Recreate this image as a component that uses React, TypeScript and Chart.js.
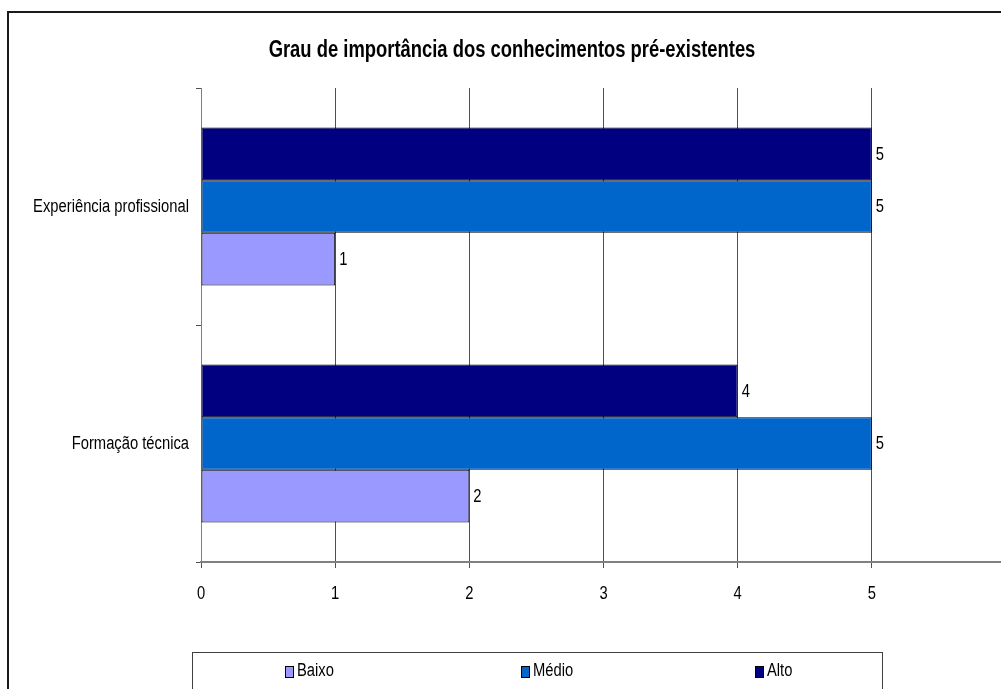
import React, { useEffect, useRef } from "react";
import { Chart, registerables } from "chart.js";

Chart.register(...registerables);

const TITLE = "Grau de importância dos conhecimentos pré-existentes";
const categories = ["Experiência profissional", "Formação técnica"];
const seriesNames = ["Baixo", "Médio", "Alto"];
const baixo = [1, 2];
const medio = [5, 5];
const alto = [5, 4];
const xTicks = [0, 1, 2, 3, 4, 5, 6];
const colors = { Baixo: "#9999FF", "Médio": "#0066CC", Alto: "#000080" };

// Arial Narrow is Arial condensed to ~82%; Liberation Sans is metric-compatible with Arial.
const FONT = "'Liberation Sans', Arial, sans-serif";
const NARROW = 0.82;

const W = 1030;
const H = 720;

function narrowText(
  ctx: CanvasRenderingContext2D,
  text: string,
  x: number,
  y: number,
  align: CanvasTextAlign,
  font: string,
  squeeze: number = NARROW
) {
  ctx.save();
  ctx.font = font;
  ctx.fillStyle = "#000";
  ctx.textAlign = align;
  ctx.textBaseline = "middle";
  ctx.translate(x, y);
  ctx.scale(squeeze, 1);
  ctx.fillText(text, 0, 0);
  ctx.restore();
}

export default function App() {
  const ref = useRef<HTMLCanvasElement | null>(null);

  useEffect(() => {
    const canvas = ref.current;
    if (!canvas) return;

    const valuesByName: Record<string, number[]> = { Baixo: baixo, "Médio": medio, Alto: alto };
    // draw order top to bottom inside each category: Alto, Médio, Baixo
    const drawOrder = [...seriesNames].reverse();

    const framePlugin = {
      id: "frame",
      beforeDraw(chart: any) {
        const ctx = chart.ctx;
        ctx.save();
        ctx.fillStyle = "#ffffff";
        ctx.fillRect(0, 0, chart.width, chart.height);
        ctx.strokeStyle = "#1a1a1a";
        ctx.lineWidth = 2;
        ctx.strokeRect(8, 12, chart.width, chart.height);
        ctx.restore();
      },
    };

    const textPlugin = {
      id: "texts",
      afterDraw(chart: any) {
        const ctx = chart.ctx;
        // title
        narrowText(ctx, TITLE, 512, 51, "center", `bold 23px ${FONT}`, 0.8);
        // y category labels
        const ys = chart.scales.y;
        chart.data.labels.forEach((lab: string, i: number) => {
          narrowText(ctx, lab, ys.right - 12, ys.getPixelForValue(i) + 1, "right", `18px ${FONT}`);
        });
        // x tick labels
        const xs = chart.scales.x;
        xs.ticks.forEach((t: any) => {
          narrowText(ctx, String(t.value), xs.getPixelForValue(t.value), 594, "center", `18px ${FONT}`);
        });
      },
    };

    const valueLabels = {
      id: "valueLabels",
      afterDatasetsDraw(chart: any) {
        const ctx = chart.ctx;
        chart.data.datasets.forEach((ds: any, i: number) => {
          const meta = chart.getDatasetMeta(i);
          meta.data.forEach((el: any, j: number) => {
            narrowText(ctx, String(ds.data[j]), el.x + 4, el.y + 1, "left", `18px ${FONT}`);
          });
        });
      },
    };

    const boxLegend = {
      id: "boxLegend",
      afterDraw(chart: any) {
        const ctx = chart.ctx;
        ctx.save();
        ctx.strokeStyle = "#404040";
        ctx.lineWidth = 1;
        ctx.strokeRect(192.5, 652.5, 690, 80);
        ctx.restore();
        const itemX = [285, 521, 755];
        seriesNames.forEach((name, k) => {
          const ds = chart.data.datasets.find((d: any) => d.label === name);
          const x = itemX[k];
          ctx.save();
          ctx.fillStyle = ds.backgroundColor;
          ctx.fillRect(x, 666, 8, 11);
          ctx.strokeStyle = "#000";
          ctx.lineWidth = 1;
          ctx.strokeRect(x + 0.5, 666.5, 8, 11);
          ctx.restore();
          narrowText(ctx, name, x + 12, 671, "left", `18px ${FONT}`);
        });
      },
    };

    const chart = new Chart(canvas, {
      type: "bar",
      data: {
        labels: categories,
        datasets: drawOrder.map((name) => ({
          label: name,
          data: valuesByName[name],
          backgroundColor: (colors as any)[name],
          borderColor: "#000000",
          borderWidth: 1,
          borderSkipped: false,
          categoryPercentage: 0.667,
          barPercentage: 1.0,
        })),
      },
      options: {
        indexAxis: "y",
        responsive: false,
        animation: false,
        devicePixelRatio: 1,
        layout: { padding: { left: 0, right: 24, top: 88, bottom: 0 } },
        plugins: {
          legend: { display: false },
          tooltip: { enabled: false },
          title: { display: false },
        },
        scales: {
          x: {
            type: "linear",
            min: xTicks[0],
            max: xTicks[xTicks.length - 1],
            afterBuildTicks(scale: any) {
              scale.ticks = xTicks.map((v) => ({ value: v }));
            },
            afterFit(scale: any) {
              scale.height = H - 562;
            },
            grid: {
              color: "#505050",
              lineWidth: 1,
              tickLength: 6,
              drawTicks: true,
            },
            border: { color: "#808080", width: 2 },
            ticks: { display: false },
          },
          y: {
            type: "category",
            afterFit(scale: any) {
              scale.width = 201;
            },
            grid: {
              drawOnChartArea: false,
              drawTicks: true,
              tickLength: 5,
              color: "#505050",
              offset: true,
            },
            border: { color: "#808080", width: 1 },
            ticks: { display: false },
          },
        },
      },
      plugins: [framePlugin, valueLabels, textPlugin, boxLegend],
    } as any);

    return () => chart.destroy();
  }, []);

  return (
    <div
      style={{
        position: "fixed",
        left: 0,
        top: 0,
        width: 1001,
        height: 689,
        overflow: "hidden",
        background: "#fff",
      }}
    >
      <canvas ref={ref} width={W} height={H} style={{ width: W, height: H, display: "block" }} />
    </div>
  );
}
